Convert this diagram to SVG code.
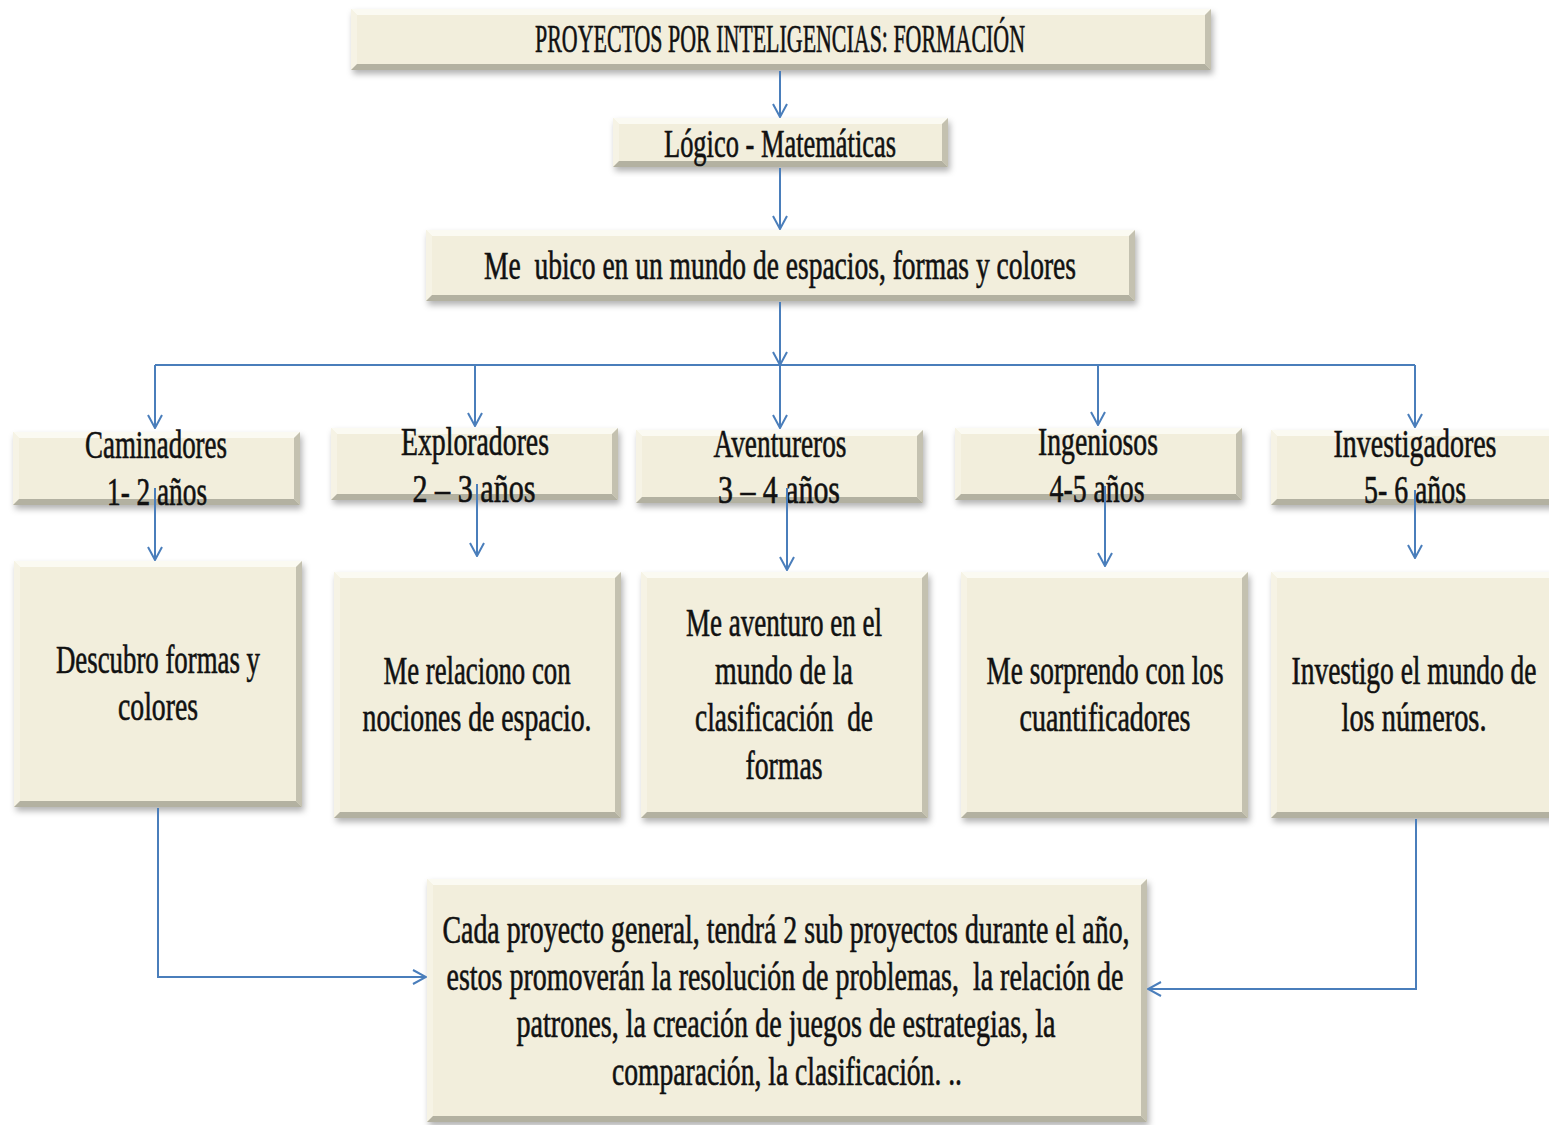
<svg xmlns="http://www.w3.org/2000/svg" width="1549" height="1125" viewBox="0 0 1549 1125">
<style>
.face{fill:#F2EEDC}
.bt{fill:#FBFAF2}
.bl{fill:#F6F3E5}
.br{fill:#C4C1B0}
.bb{fill:#B3B1A1}
.box{filter:url(#sh)}
text{font-family:"Liberation Serif",serif;font-size:39px;fill:#111;stroke:#111;stroke-width:0.6;text-anchor:middle;white-space:pre}
.c{fill:none;stroke:#4A7EBB;stroke-width:2}
.a{marker-end:url(#ah)}
</style>
<defs>
<filter id="sh" x="-5%" y="-10%" width="110%" height="130%">
<feDropShadow dx="2" dy="4" stdDeviation="3" flood-color="#000" flood-opacity="0.3"/>
</filter>
<marker id="ah" viewBox="0 0 16 16" refX="15" refY="8" markerWidth="16" markerHeight="16" markerUnits="userSpaceOnUse" orient="auto">
<path d="M2,1 L15,8 L2,15" fill="none" stroke="#4A7EBB" stroke-width="2"/>
</marker>
</defs>
<rect width="1549" height="1125" fill="#fff"/>

<g id="n-title">
<g class="box"><rect class="face" x="351" y="9" width="860" height="61"/>
<polygon class="bt" points="351,9 1211,9 1205,15 357,15"/><polygon class="bl" points="351,9 357,15 357,64 351,70"/><polygon class="br" points="1211,9 1211,70 1205,64 1205,15"/><polygon class="bb" points="351,70 1211,70 1205,64 357,64"/></g>
<text x="780" y="52" font-size="38" textLength="490" lengthAdjust="spacingAndGlyphs">PROYECTOS POR INTELIGENCIAS: FORMACIÓN</text>
</g>

<g id="n-logico">
<g class="box"><rect class="face" x="613" y="118" width="335" height="49"/>
<polygon class="bt" points="613,118 948,118 942,124 619,124"/><polygon class="bl" points="613,118 619,124 619,161 613,167"/><polygon class="br" points="948,118 948,167 942,161 942,124"/><polygon class="bb" points="613,167 948,167 942,161 619,161"/></g>
<text x="780" y="157" font-size="44" textLength="232" lengthAdjust="spacingAndGlyphs">Lógico - Matemáticas</text>
</g>

<g id="n-ubico">
<g class="box"><rect class="face" x="426" y="230" width="709" height="71"/>
<polygon class="bt" points="426,230 1135,230 1129,236 432,236"/><polygon class="bl" points="426,230 432,236 432,295 426,301"/><polygon class="br" points="1135,230 1135,301 1129,295 1129,236"/><polygon class="bb" points="426,301 1135,301 1129,295 432,295"/></g>
<text x="780" y="279" textLength="592" lengthAdjust="spacingAndGlyphs" xml:space="preserve">Me  ubico en un mundo de espacios, formas y colores</text>
</g>

<g id="n-caminadores">
<g class="box"><rect class="face" x="13" y="432" width="287" height="73"/>
<polygon class="bt" points="13,432 300,432 294,438 19,438"/><polygon class="bl" points="13,432 19,438 19,499 13,505"/><polygon class="br" points="300,432 300,505 294,499 294,438"/><polygon class="bb" points="13,505 300,505 294,499 19,499"/></g>
<text x="156" y="458" textLength="142" lengthAdjust="spacingAndGlyphs">Caminadores</text>
<text x="157" y="505" textLength="100" lengthAdjust="spacingAndGlyphs">1- 2 años</text>
</g>

<g id="n-exploradores">
<g class="box"><rect class="face" x="331" y="428" width="287" height="72"/>
<polygon class="bt" points="331,428 618,428 612,434 337,434"/><polygon class="bl" points="331,428 337,434 337,494 331,500"/><polygon class="br" points="618,428 618,500 612,494 612,434"/><polygon class="bb" points="331,500 618,500 612,494 337,494"/></g>
<text x="475" y="455" textLength="148" lengthAdjust="spacingAndGlyphs">Exploradores</text>
<text x="474" y="502" textLength="123" lengthAdjust="spacingAndGlyphs">2 – 3 años</text>
</g>

<g id="n-aventureros">
<g class="box"><rect class="face" x="636" y="430" width="287" height="73"/>
<polygon class="bt" points="636,430 923,430 917,436 642,436"/><polygon class="bl" points="636,430 642,436 642,497 636,503"/><polygon class="br" points="923,430 923,503 917,497 917,436"/><polygon class="bb" points="636,503 923,503 917,497 642,497"/></g>
<text x="780" y="457" textLength="133" lengthAdjust="spacingAndGlyphs">Aventureros</text>
<text x="779" y="503" textLength="122" lengthAdjust="spacingAndGlyphs">3 – 4 años</text>
</g>

<g id="n-ingeniosos">
<g class="box"><rect class="face" x="955" y="428" width="287" height="72"/>
<polygon class="bt" points="955,428 1242,428 1236,434 961,434"/><polygon class="bl" points="955,428 961,434 961,494 955,500"/><polygon class="br" points="1242,428 1242,500 1236,494 1236,434"/><polygon class="bb" points="955,500 1242,500 1236,494 961,494"/></g>
<text x="1098" y="455" textLength="120" lengthAdjust="spacingAndGlyphs">Ingeniosos</text>
<text x="1097" y="502" textLength="95" lengthAdjust="spacingAndGlyphs">4-5 años</text>
</g>

<g id="n-investigadores">
<g class="box"><rect class="face" x="1271" y="430" width="290" height="75"/>
<polygon class="bt" points="1271,430 1561,430 1555,436 1277,436"/><polygon class="bl" points="1271,430 1277,436 1277,499 1271,505"/><polygon class="br" points="1561,430 1561,505 1555,499 1555,436"/><polygon class="bb" points="1271,505 1561,505 1555,499 1277,499"/></g>
<text x="1415" y="457" textLength="163" lengthAdjust="spacingAndGlyphs">Investigadores</text>
<text x="1415" y="503" textLength="102" lengthAdjust="spacingAndGlyphs">5- 6 años</text>
</g>

<g id="n-descubro">
<g class="box"><rect class="face" x="14" y="561" width="288" height="246"/>
<polygon class="bt" points="14,561 302,561 296,567 20,567"/><polygon class="bl" points="14,561 20,567 20,801 14,807"/><polygon class="br" points="302,561 302,807 296,801 296,567"/><polygon class="bb" points="14,807 302,807 296,801 20,801"/></g>
<text x="158" y="673" textLength="204" lengthAdjust="spacingAndGlyphs">Descubro formas y</text>
<text x="158" y="720" textLength="80" lengthAdjust="spacingAndGlyphs">colores</text>
</g>

<g id="n-relaciono">
<g class="box"><rect class="face" x="334" y="572" width="287" height="246"/>
<polygon class="bt" points="334,572 621,572 615,578 340,578"/><polygon class="bl" points="334,572 340,578 340,812 334,818"/><polygon class="br" points="621,572 621,818 615,812 615,578"/><polygon class="bb" points="334,818 621,818 615,812 340,812"/></g>
<text x="477" y="684" textLength="187" lengthAdjust="spacingAndGlyphs">Me relaciono con</text>
<text x="477" y="731" textLength="229" lengthAdjust="spacingAndGlyphs">nociones de espacio.</text>
</g>

<g id="n-aventuro">
<g class="box"><rect class="face" x="641" y="572" width="287" height="246"/>
<polygon class="bt" points="641,572 928,572 922,578 647,578"/><polygon class="bl" points="641,572 647,578 647,812 641,818"/><polygon class="br" points="928,572 928,818 922,812 922,578"/><polygon class="bb" points="641,818 928,818 922,812 647,812"/></g>
<text x="784" y="636" textLength="196" lengthAdjust="spacingAndGlyphs">Me aventuro en el</text>
<text x="784" y="684" textLength="138" lengthAdjust="spacingAndGlyphs">mundo de la</text>
<text x="784" y="731" textLength="178" lengthAdjust="spacingAndGlyphs" xml:space="preserve">clasificación  de</text>
<text x="784" y="779" textLength="77" lengthAdjust="spacingAndGlyphs">formas</text>
</g>

<g id="n-sorprendo">
<g class="box"><rect class="face" x="961" y="572" width="287" height="246"/>
<polygon class="bt" points="961,572 1248,572 1242,578 967,578"/><polygon class="bl" points="961,572 967,578 967,812 961,818"/><polygon class="br" points="1248,572 1248,818 1242,812 1242,578"/><polygon class="bb" points="961,818 1248,818 1242,812 967,812"/></g>
<text x="1105" y="684" textLength="237" lengthAdjust="spacingAndGlyphs">Me sorprendo con los</text>
<text x="1105" y="731" textLength="171" lengthAdjust="spacingAndGlyphs">cuantificadores</text>
</g>

<g id="n-investigo">
<g class="box"><rect class="face" x="1271" y="572" width="290" height="246"/>
<polygon class="bt" points="1271,572 1561,572 1555,578 1277,578"/><polygon class="bl" points="1271,572 1277,578 1277,812 1271,818"/><polygon class="br" points="1561,572 1561,818 1555,812 1555,578"/><polygon class="bb" points="1271,818 1561,818 1555,812 1277,812"/></g>
<text x="1414" y="684" textLength="245" lengthAdjust="spacingAndGlyphs">Investigo el mundo de</text>
<text x="1414" y="731" textLength="145" lengthAdjust="spacingAndGlyphs">los números.</text>
</g>

<g id="n-cada">
<g class="box"><rect class="face" x="427" y="879" width="720" height="243"/>
<polygon class="bt" points="427,879 1147,879 1141,885 433,885"/><polygon class="bl" points="427,879 433,885 433,1116 427,1122"/><polygon class="br" points="1147,879 1147,1122 1141,1116 1141,885"/><polygon class="bb" points="427,1122 1147,1122 1141,1116 433,1116"/></g>
<text x="786" y="943" textLength="687" lengthAdjust="spacingAndGlyphs">Cada proyecto general, tendrá 2 sub proyectos durante el año,</text>
<text x="785" y="990" textLength="677" lengthAdjust="spacingAndGlyphs" xml:space="preserve">estos promoverán la resolución de problemas,  la relación de</text>
<text x="786" y="1037" textLength="539" lengthAdjust="spacingAndGlyphs">patrones, la creación de juegos de estrategias, la</text>
<text x="787" y="1085" textLength="350" lengthAdjust="spacingAndGlyphs">comparación, la clasificación. ..</text>
</g>

<g id="connectors">
<line class="c a" x1="780" y1="71" x2="780" y2="117"/>
<line class="c a" x1="780" y1="168" x2="780" y2="229"/>
<line class="c a" x1="780" y1="302" x2="780" y2="365"/>
<line class="c" x1="155" y1="365" x2="1415" y2="365"/>
<line class="c a" x1="155" y1="365" x2="155" y2="428"/>
<line class="c a" x1="475" y1="365" x2="475" y2="426"/>
<line class="c a" x1="780" y1="365" x2="780" y2="428"/>
<line class="c a" x1="1098" y1="365" x2="1098" y2="425"/>
<line class="c a" x1="1415" y1="365" x2="1415" y2="427"/>
<line class="c a" x1="155" y1="488" x2="155" y2="560"/>
<line class="c a" x1="477" y1="484" x2="477" y2="556"/>
<line class="c a" x1="787" y1="488" x2="787" y2="570"/>
<line class="c a" x1="1105" y1="486" x2="1105" y2="566"/>
<line class="c a" x1="1415" y1="490" x2="1415" y2="558"/>
<polyline class="c a" points="158,808 158,977 426,977"/>
<polyline class="c a" points="1416,819 1416,989 1148,989"/>
</g>
</svg>
